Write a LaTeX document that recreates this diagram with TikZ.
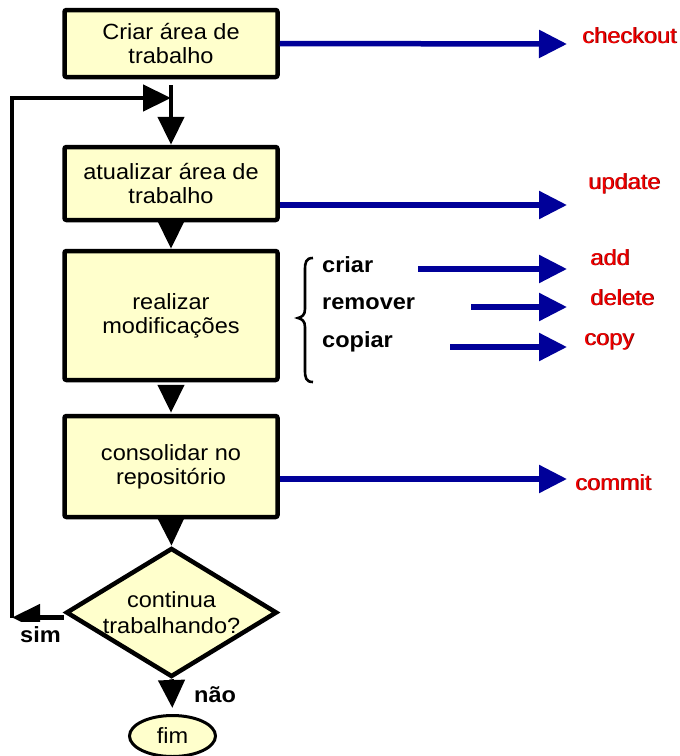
\documentclass[tikz,border=0pt]{standalone}
\usepackage{fontspec}
\setmainfont{Liberation Sans}[FakeStretch=1.07]
\usetikzlibrary{arrows.meta,shapes.geometric}
\definecolor{boxfill}{RGB}{255,255,204}
\definecolor{navyarrow}{RGB}{0,0,153}
\definecolor{cmdred}{RGB}{245,0,0}
\definecolor{cmdshadow}{RGB}{110,0,0}
% red command name with a small dark drop shadow
\newcommand\cmdtext[1]{\rlap{\kern0.9pt\raisebox{-0.9pt}{\color{cmdshadow}#1}}{\color{cmdred}#1}}

\begin{document}
\begin{tikzpicture}[x=1pt,y=-1pt,
  stepbox/.style={draw, line width=4.5pt, fill=boxfill, rounded corners=2pt,
    minimum width=213pt, inner sep=0pt, align=center,
    font=\fontsize{22}{24}\selectfont},
  blk/.style={line width=4.5pt, -{Triangle[length=28pt,width=26pt]}},
  blu/.style={navyarrow, line width=5.5pt, -{Triangle[length=28pt,width=27pt]}},
  cmd/.style={anchor=base west, inner sep=0pt, font=\fontsize{22}{24}\selectfont},
  act/.style={anchor=base west, inner sep=0pt, font=\bfseries\fontsize{22}{24}\selectfont}]
\useasboundingbox (0,0) rectangle (680,756);

% process steps
\node[stepbox, minimum height=67pt]  (b1) at (171,43.5)  {Criar área de\\trabalho};
\node[stepbox, minimum height=73pt]  (b2) at (171,183.5) {atualizar área de\\trabalho};
\node[stepbox, minimum height=129pt] (b3) at (171,315.5) {realizar\\modificações};
\node[stepbox, minimum height=101pt] (b4) at (171,466.5) {consolidar no\\repositório};

% decision and end
\node[diamond, draw, line width=4.5pt, fill=boxfill, minimum width=211pt,
      minimum height=129pt, inner sep=0pt] (d) at (171.5,612.5) {};
\node[align=center, inner sep=0pt, font=\fontsize{22}{26}\selectfont] (dq) at (d.center)
      {continua\\trabalhando?};
\node[ellipse, draw, line width=3pt, fill=boxfill, minimum width=86pt,
      minimum height=41pt, inner sep=0pt, font=\fontsize{22}{24}\selectfont] (fim) at (172.5,736) {fim};

% main flow
\draw[blk, shorten <=6pt] (b1.south) -- (b2.north);
\draw[blk] (b2.south) -- (b3.north);
\draw[blk, shorten <=3pt, shorten >=1pt] (b3.south) -- (b4.north);
\draw[blk] (b4.south) -- (d.north);
\draw[blk, shorten >=6pt] (d.south) -- (fim.north);

% loop back when work continues
\coordinate (loopc) at (12,617.5);
\coordinate (loopj) at (171,98);
\draw[blk] (d.west |- loopc) -- (loopc);
\draw[blk, line join=miter] (loopc) |- (loopj);
\node[act, fill=white, inner ysep=4pt] (sim) at (20,642) {sim};
\node[act] (nao) at (194,702) {não};

% sub-actions of the modification step
\draw[line width=2.6pt] (313,258) .. controls (306,258) and (305,262) .. (305,270)
  -- (305,309) .. controls (305,315) and (302,317) .. (298,318)
  .. controls (302,319) and (305,321) .. (305,327)
  -- (305,370) .. controls (305,378) and (306,382) .. (313,382);
\node[act] (criar)   at (322,272) {criar};
\node[act] (remover) at (322,309) {remover};
\node[act] (copiar)  at (322,347) {copiar};

% commands
\node[cmd] (co)  at (582,43)  {\cmdtext{checkout}};
\node[cmd] (up)  at (588,189) {\cmdtext{update}};
\node[cmd] (add) at (590,265) {\cmdtext{add}};
\node[cmd] (del) at (590,305) {\cmdtext{delete}};
\node[cmd] (cp)  at (584,345) {\cmdtext{copy}};
\node[cmd] (cm)  at (575,490) {\cmdtext{commit}};

\coordinate (tipco)  at (567,44);
\coordinate (tipup)  at (567,205);
\coordinate (addst)  at (418,269);
\coordinate (tipadd) at (567,269);
\coordinate (delst)  at (471,307);
\coordinate (tipdel) at (567,307);
\coordinate (cpst)   at (450,347);
\coordinate (tipcp)  at (567,347);
\coordinate (tipcm)  at (567,479);

\draw[blu] (b1.east) -- (tipco);
\draw[blu] (b2.east |- tipup) -- (tipup);
\draw[blu] (addst) -- (tipadd);
\draw[blu] (delst) -- (tipdel);
\draw[blu] (cpst) -- (tipcp);
\draw[blu] (b4.east |- tipcm) -- (tipcm);
\end{tikzpicture}
\end{document}
